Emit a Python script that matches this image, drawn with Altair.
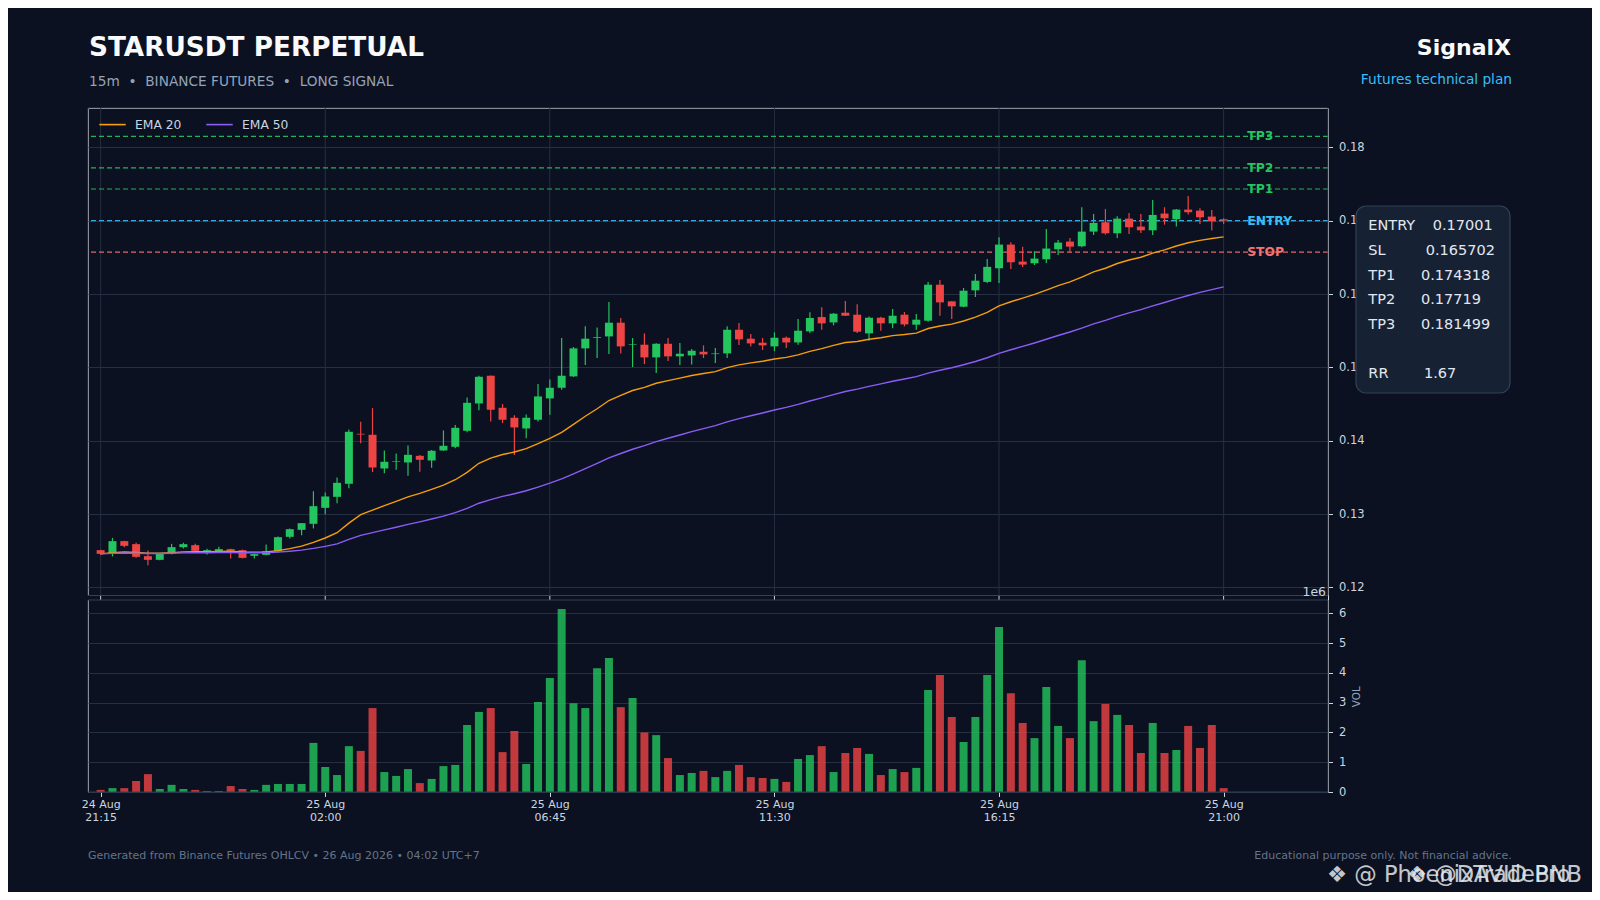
import altair as alt
import pandas as pd

# ---------------- data ----------------
opens = [
    0.12508, 0.12458, 0.12631, 0.12590, 0.12426, 0.12376, 0.12458, 0.12549, 0.12576, 0.12490,
    0.12494, 0.12522, 0.12508, 0.12431, 0.12444, 0.12490, 0.12690, 0.12785, 0.12867, 0.13085,
    0.13235, 0.13413, 0.14095, 0.14081, 0.13622, 0.13710, 0.13704, 0.13794, 0.13731, 0.13867,
    0.13917, 0.14135, 0.14508, 0.14886, 0.14449, 0.14313, 0.14167, 0.14286, 0.14577, 0.14722,
    0.14877, 0.15259, 0.15400, 0.15422, 0.15609, 0.15305, 0.15309, 0.15136, 0.15322, 0.15150,
    0.15163, 0.15213, 0.15181, 0.15190, 0.15513, 0.15391, 0.15336, 0.15286, 0.15404, 0.15340,
    0.15491, 0.15686, 0.15613, 0.15745, 0.15718, 0.15463, 0.15677, 0.15600, 0.15718, 0.15582,
    0.15636, 0.16127, 0.15900, 0.15827, 0.16050, 0.16165, 0.16351, 0.16674, 0.16442, 0.16419,
    0.16474, 0.16610, 0.16715, 0.16651, 0.16851, 0.16978, 0.16828, 0.17028, 0.16919, 0.16869,
    0.17097, 0.17019, 0.17151, 0.17137, 0.17056, 0.17019]
highs = [
    0.12512, 0.12676, 0.12635, 0.12608, 0.12504, 0.12460, 0.12594, 0.12608, 0.12594, 0.12526,
    0.12553, 0.12526, 0.12517, 0.12458, 0.12586, 0.12695, 0.12804, 0.12880, 0.13312, 0.13294,
    0.13499, 0.14154, 0.14258, 0.14445, 0.13867, 0.13826, 0.13935, 0.13805, 0.13872, 0.14140,
    0.14213, 0.14590, 0.14886, 0.14890, 0.14500, 0.14349, 0.14358, 0.14772, 0.14836, 0.15400,
    0.15277, 0.15559, 0.15545, 0.15891, 0.15673, 0.15400, 0.15463, 0.15330, 0.15400, 0.15332,
    0.15250, 0.15300, 0.15263, 0.15559, 0.15604, 0.15454, 0.15400, 0.15477, 0.15422, 0.15659,
    0.15750, 0.15818, 0.15741, 0.15905, 0.15859, 0.15695, 0.15691, 0.15795, 0.15754, 0.15727,
    0.16164, 0.16191, 0.15900, 0.16082, 0.16273, 0.16477, 0.16774, 0.16705, 0.16646, 0.16583,
    0.16887, 0.16737, 0.16765, 0.17183, 0.17092, 0.17160, 0.17060, 0.17106, 0.17092, 0.17283,
    0.17183, 0.17160, 0.17338, 0.17169, 0.17147, 0.17033]
lows = [
    0.12446, 0.12422, 0.12549, 0.12403, 0.12304, 0.12372, 0.12450, 0.12531, 0.12485, 0.12450,
    0.12485, 0.12395, 0.12395, 0.12395, 0.12440, 0.12477, 0.12668, 0.12713, 0.12804, 0.12999,
    0.13149, 0.13353, 0.13967, 0.13572, 0.13558, 0.13603, 0.13522, 0.13576, 0.13630, 0.13862,
    0.13899, 0.14117, 0.14417, 0.14263, 0.14240, 0.13804, 0.14035, 0.14263, 0.14354, 0.14695,
    0.14870, 0.15031, 0.15127, 0.15181, 0.15190, 0.15004, 0.15045, 0.14922, 0.15086, 0.15031,
    0.15040, 0.15127, 0.15059, 0.15127, 0.15304, 0.15286, 0.15236, 0.15222, 0.15263, 0.15309,
    0.15468, 0.15513, 0.15573, 0.15700, 0.15468, 0.15363, 0.15500, 0.15532, 0.15559, 0.15513,
    0.15623, 0.15704, 0.15659, 0.15820, 0.15959, 0.16150, 0.16151, 0.16342, 0.16369, 0.16396,
    0.16423, 0.16533, 0.16569, 0.16637, 0.16805, 0.16810, 0.16765, 0.16819, 0.16833, 0.16805,
    0.16946, 0.16919, 0.17083, 0.16956, 0.16865, 0.16956]
closes = [
    0.12458, 0.12631, 0.12567, 0.12417, 0.12376, 0.12458, 0.12549, 0.12590, 0.12499, 0.12508,
    0.12522, 0.12499, 0.12403, 0.12454, 0.12494, 0.12685, 0.12794, 0.12876, 0.13108, 0.13240,
    0.13426, 0.14122, 0.14085, 0.13635, 0.13713, 0.13718, 0.13808, 0.13740, 0.13863, 0.13931,
    0.14176, 0.14517, 0.14872, 0.14422, 0.14286, 0.14181, 0.14313, 0.14604, 0.14722, 0.14886,
    0.15259, 0.15391, 0.15409, 0.15609, 0.15286, 0.15313, 0.15136, 0.15322, 0.15150, 0.15186,
    0.15227, 0.15177, 0.15190, 0.15513, 0.15382, 0.15327, 0.15300, 0.15404, 0.15340, 0.15500,
    0.15673, 0.15600, 0.15732, 0.15704, 0.15486, 0.15677, 0.15600, 0.15704, 0.15586, 0.15650,
    0.16127, 0.15886, 0.15832, 0.16045, 0.16182, 0.16370, 0.16674, 0.16433, 0.16401, 0.16483,
    0.16620, 0.16701, 0.16646, 0.16851, 0.16969, 0.16828, 0.17028, 0.16910, 0.16869, 0.17078,
    0.17033, 0.17151, 0.17115, 0.17046, 0.16992, 0.17001]
volumes_m = [
    0.07, 0.13, 0.13, 0.37, 0.60, 0.10, 0.24, 0.10, 0.07, 0.03,
    0.03, 0.20, 0.10, 0.07, 0.24, 0.27, 0.27, 0.27, 1.65, 0.84,
    0.57, 1.54, 1.38, 2.82, 0.67, 0.54, 0.77, 0.30, 0.44, 0.87,
    0.91, 2.25, 2.69, 2.82, 1.34, 2.05, 0.94, 3.02, 3.83, 6.15,
    2.98, 2.82, 4.16, 4.50, 2.85, 3.16, 2.00, 1.91, 1.14, 0.57,
    0.64, 0.71, 0.50, 0.71, 0.91, 0.50, 0.47, 0.44, 0.34, 1.11,
    1.24, 1.54, 0.67, 1.31, 1.48, 1.28, 0.57, 0.77, 0.67, 0.81,
    3.43, 3.93, 2.52, 1.68, 2.52, 3.93, 5.54, 3.32, 2.32, 1.81,
    3.53, 2.22, 1.81, 4.43, 2.38, 2.96, 2.59, 2.25, 1.31, 2.32,
    1.31, 1.41, 2.22, 1.48, 2.25, 0.13]

tick_idx = [0, 19, 38, 57, 76, 95]
tick_date = ["24 Aug", "25 Aug", "25 Aug", "25 Aug", "25 Aug", "25 Aug"]
tick_time = ["21:15", "02:00", "06:45", "11:30", "16:15", "21:00"]
price_ticks = [0.12, 0.13, 0.14, 0.15, 0.16, 0.17, 0.18]
vol_ticks = [0, 1, 2, 3, 4, 5, 6]

level_names = ["TP3", "TP2", "TP1", "ENTRY", "STOP"]
level_prices = [0.181499, 0.17719, 0.174318, 0.17001, 0.165702]

info_keys = ["ENTRY", "SL", "TP1", "TP2", "TP3", "RR"]
info_values = [0.17001, 0.165702, 0.174318, 0.17719, 0.181499, 1.67]

# ---------------- styling ----------------
PAGE = "#0b1120"
PANEL = "#111827"
BORDER = "#334155"
GRID = "#243042"
AXT = "#cbd5e1"
GREEN = "#22c55e"
RED = "#ef4444"
ORANGE = "#f59e0b"
PURPLE = "#8b5cf6"
CYAN = "#38bdf8"
STOPC = "#f87171"
FONT = "DejaVu Sans"
NB = "\u00a0"

W, H = 1240, 684
P_BOT = 487.5   # bottom of price panel
V_TOP = 492.0   # top of volume panel

n = len(closes)
df = pd.DataFrame({"i": list(range(n)), "open": opens, "high": highs, "low": lows,
                   "close": closes, "vol": volumes_m})
df["col"] = [GREEN if c >= o else RED for o, c in zip(opens, closes)]
df["EMA 20"] = df["close"].ewm(span=20, adjust=False).mean()
df["EMA 50"] = df["close"].ewm(span=50, adjust=False).mean()
ema_long = df.melt(id_vars=["i"], value_vars=["EMA 20", "EMA 50"], var_name="series", value_name="value")

lv_colors = [GREEN, GREEN, GREEN, CYAN, STOPC]
lv = pd.DataFrame({"name": level_names, "price": level_prices, "col": lv_colors})
ticks_df = pd.DataFrame({"i": tick_idx})

label_expr = " : ".join(
    f"datum.value == {t} ? ['{d}', '{tm}']" for t, d, tm in zip(tick_idx, tick_date, tick_time)
) + " : ''"

XS = alt.Scale(domain=[-1.07, 103.83], nice=False, zero=False, padding=0)
XAX = alt.Axis(orient="bottom", values=tick_idx, labelExpr=label_expr, grid=False, domain=False,
               tickColor=AXT, tickSize=4.5, labelColor=AXT, labelFontSize=11,
               labelLineHeight=12.5, labelPadding=2, title=None, labelFont=FONT)
PS = alt.Scale(domain=[0.1189, 0.18536], range=[P_BOT, 0], nice=False, zero=False, padding=0)
PAX = alt.Axis(orient="right", values=price_ticks, format=".2f", grid=True, gridColor=GRID,
               domain=False, tickColor=AXT, tickSize=4.5, labelColor=AXT, labelFontSize=11.5,
               labelPadding=6, title=None, labelFont=FONT)
VS = alt.Scale(domain=[0, 6.45], range=[H, V_TOP], nice=False, zero=False, padding=0)
VAX = alt.Axis(orient="right", values=vol_ticks, format="d", grid=True, gridColor=GRID,
               domain=False, tickColor=AXT, tickSize=4.5, labelColor=AXT, labelFontSize=11.5,
               labelPadding=6, title=None, labelFont=FONT)


def X(field):
    return alt.X(field, scale=XS, axis=XAX)


def PY(field):
    return alt.Y(field, scale=PS, axis=PAX)


# ---------------- price panel ----------------
vgrid = alt.Chart(ticks_df).mark_rule(stroke=GRID, strokeWidth=1).encode(
    x=X("i:Q"), y=alt.value(0), y2=alt.value(P_BOT))

levels = alt.Chart(lv).mark_rule(strokeDash=[5, 3], strokeWidth=1.2, opacity=0.9).encode(
    y=PY("price:Q"), stroke=alt.Stroke("col:N", scale=None))

wicks = alt.Chart(df).mark_rule(strokeWidth=1.2).encode(
    x=X("i:Q"), y=PY("low:Q"), y2="high:Q", stroke=alt.Stroke("col:N", scale=None))

bodies = alt.Chart(df).mark_bar(size=8).encode(
    x=X("i:Q"), y=PY("open:Q"), y2="close:Q", fill=alt.Fill("col:N", scale=None))

ema = alt.Chart(ema_long).mark_line(strokeWidth=1.4).encode(
    x=X("i:Q"), y=PY("value:Q"),
    color=alt.Color("series:N",
                    scale=alt.Scale(domain=["EMA 20", "EMA 50"], range=[ORANGE, PURPLE]),
                    legend=alt.Legend(orient="none", legendX=10, legendY=2, direction="horizontal",
                                      title=None, labelColor=AXT, labelFontSize=12.3, labelFont=FONT,
                                      symbolType="stroke", symbolSize=700, symbolStrokeWidth=1.6,
                                      labelOffset=8, columnPadding=21, padding=0)))

label_x = n - 1 + 2
level_labels = alt.Chart(lv).mark_text(align="left", baseline="middle", fontWeight="bold",
                                       fontSize=12.3, font=FONT).encode(
    x=alt.XDatum(label_x, scale=XS, axis=XAX), y=PY("price:Q"), text="name:N",
    fill=alt.Fill("col:N", scale=None))

price_group = alt.layer(vgrid, levels, wicks, bodies, ema, level_labels)

# ---------------- volume panel ----------------
vol = alt.Chart(df).mark_bar(size=8, opacity=0.8).encode(
    x=X("i:Q"), y=alt.Y("vol:Q", scale=VS, axis=VAX), y2=alt.datum(0),
    fill=alt.Fill("col:N", scale=None))
vol_group = alt.layer(vol)

# ---------------- decorations & text ----------------
one = pd.DataFrame({"k": [0]})


def box(x1, x2, y1, y2, **kw):
    return alt.Chart(one).mark_rect(**kw).encode(
        x=alt.value(x1), x2=alt.value(x2), y=alt.value(y1), y2=alt.value(y2))


def txt(s, x, y, **kw):
    kw.setdefault("font", FONT)
    return alt.Chart(one).mark_text(text=s, **kw).encode(x=alt.value(x), y=alt.value(y))


gap = box(0, W, P_BOT, V_TOP, fill=PAGE)
pticks = alt.Chart(ticks_df).mark_rule(stroke=AXT, strokeWidth=1).encode(
    x=X("i:Q"), y=alt.value(P_BOT), y2=alt.value(V_TOP))
border_p = box(0, W, 0, P_BOT, fillOpacity=0, stroke=BORDER, strokeWidth=1)
border_v = box(0, W, V_TOP, H, fillOpacity=0, stroke=BORDER, strokeWidth=1)

info_box = box(1268, 1422, 98, 285, fill="#172134", stroke=BORDER, strokeWidth=1.2, cornerRadius=10)
info_y = [118.3, 143.3, 168.0, 192.3, 217.3, 266.3]
info_vx = [1344.7, 1337.7, 1333.0, 1333.0, 1333.0, 1336.0]
info_layers = []
for k, v, yy, vx in zip(info_keys, info_values, info_y, info_vx):
    info_layers.append(txt(k, 1280.3, yy, align="left", baseline="middle", fontSize=14.5, color="#e2e8f0"))
    info_layers.append(txt(str(v), vx, yy, align="left", baseline="middle", fontSize=14.5, color="#e2e8f0"))

sep = NB * 2 + "\u2022" + NB * 2
texts = [
    txt("STARUSDT PERPETUAL", 1, -52, align="left", baseline="alphabetic", fontSize=26.3,
        fontWeight="bold", color="#f8fafc"),
    txt("15m" + sep + "BINANCE FUTURES" + sep + "LONG SIGNAL", 1, -22, align="left",
        baseline="alphabetic", fontSize=13.7, color="#94a3b8"),
    txt("SignalX", 1423, -53, align="right", baseline="alphabetic", fontSize=22,
        fontWeight="bold", color="#f8fafc"),
    txt("Futures technical plan", 1424, -24.5, align="right", baseline="alphabetic",
        fontSize=13.7, color=CYAN),
    txt("Generated from Binance Futures OHLCV \u2022 26 Aug 2026 \u2022 04:02 UTC+7", 0, 751.3,
        align="left", baseline="alphabetic", fontSize=11, color="#64748b"),
    txt("Educational purpose only. Not financial advice.", 1423.7, 751.3, align="right",
        baseline="alphabetic", fontSize=11, color="#64748b"),
    txt("1e6", 1238, 487.7, align="right", baseline="alphabetic", fontSize=12.4, color=AXT),
    txt("VOL", 1268.5, 588.7, align="center", baseline="middle", fontSize=10.4, color="#94a3b8",
        angle=270),
    txt("\u2756 @ PhoenixTradePro", 1239, 773.7, align="left", baseline="alphabetic", fontSize=22.5,
        color="#e5e7eb", opacity=0.85),
    txt("\u2756 @DAVID BNB", 1319, 773.7, align="left", baseline="alphabetic", fontSize=22.5,
        color="#e5e7eb", opacity=0.85),
]

deco_group = alt.layer(gap, pticks, border_p, border_v, info_box, *info_layers, *texts)

chart = (
    alt.layer(price_group, vol_group, deco_group)
    .resolve_scale(y="independent")
    .properties(width=W, height=H,
                autosize=alt.AutoSizeParams(type="none"),
                padding={"left": 80, "top": 100, "right": 264, "bottom": 100},
                background=PAGE)
    .configure_view(stroke=None, fill=PANEL)
    .configure(font=FONT)
)

chart.save("out.html", embed_options={"renderer": "svg", "actions": False})
